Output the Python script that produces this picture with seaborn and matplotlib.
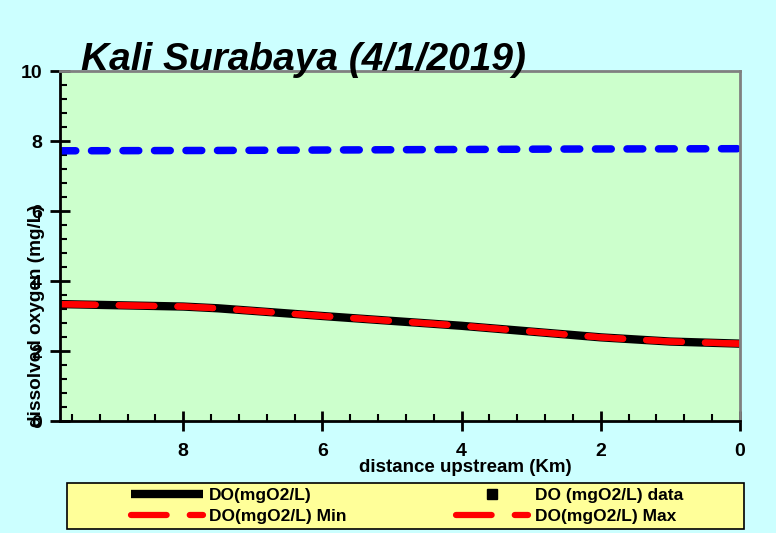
import matplotlib
matplotlib.use("Agg")
import matplotlib.pyplot as plt
import matplotlib.patches as mpatches
from matplotlib.ticker import MultipleLocator
import seaborn as sns

# values
dist_km = [9.77, 8.0, 7.5, 6.0, 4.0, 2.0, 1.0, 0.0]
do_model = [3.34, 3.27, 3.22, 3.00, 2.72, 2.39, 2.27, 2.21]
do_min = [3.34, 3.27, 3.22, 3.00, 2.72, 2.39, 2.27, 2.21]
do_max = [3.34, 3.27, 3.22, 3.00, 2.72, 2.39, 2.27, 2.21]
sat_km = [9.77, 7.5, 5.0, 2.5, 0.0]
do_sat = [7.72, 7.73, 7.75, 7.77, 7.78]
data_km = []
data_do = []

title = "Kali Surabaya (4/1/2019)"
x_ticks = [0, 2, 4, 6, 8]
y_ticks = [0, 2, 4, 6, 8, 10]

plt.rcParams['font.family'] = ['Liberation Sans', 'DejaVu Sans']
plt.rcParams['font.weight'] = 'bold'

W, H = 776, 533
fig = plt.figure(figsize=(W / 100, H / 100), dpi=100, facecolor='#CCFFFF')
ax = fig.add_axes([60 / W, 112 / H, 680 / W, 350 / H])
ax.set_facecolor('#CCFFCC')

red_dash = (0, (5.7, 3.7))
sns.lineplot(x=sat_km, y=do_sat, ax=ax, color='#0000FF', linewidth=5.4,
             linestyle=(0, (2.1, 2.1)), dash_capstyle='round', sort=False)
sns.lineplot(x=dist_km, y=do_model, ax=ax, color='black', linewidth=6,
             sort=False, solid_capstyle='butt')
h_model = ax.lines[-1]
sns.lineplot(x=dist_km, y=do_min, ax=ax, color='#FF0000', linewidth=4.5,
             linestyle=red_dash, dash_capstyle='round', sort=False)
h_min = ax.lines[-1]
sns.lineplot(x=dist_km, y=do_max, ax=ax, color='#FF0000', linewidth=4.5,
             linestyle=red_dash, dash_capstyle='round', sort=False)
h_max = ax.lines[-1]
h_data, = ax.plot(data_km, data_do, 's', color='black', markersize=7, linestyle='none')

ax.set_xlim(9.77, 0)
ax.set_ylim(0, 10)
ax.set_xticks(x_ticks)
ax.set_yticks(y_ticks)
ax.xaxis.set_minor_locator(MultipleLocator(0.4))
ax.yaxis.set_minor_locator(MultipleLocator(0.4))
ax.tick_params(which='major', direction='inout', length=14, width=2, labelsize=14)
ax.tick_params(which='minor', direction='in', length=5, width=1.5)
ax.tick_params(axis='y', which='major', pad=6)
ax.tick_params(axis='x', which='major', pad=9)
for lab in ax.get_xticklabels() + ax.get_yticklabels():
    lab.set_fontweight('bold')

for side in ['left', 'bottom']:
    ax.spines[side].set_color('black')
    ax.spines[side].set_linewidth(2)
for side in ['top', 'right']:
    ax.spines[side].set_color('#808080')
    ax.spines[side].set_linewidth(2)

ax.set_xlabel('distance upstream (Km)', fontsize=13.5, fontweight='bold')
ax.xaxis.set_label_coords(0.596, -0.108)
# the original draws the y label right over the tick numbers
ax.set_ylabel('dissolved oxygen (mg/L)', fontsize=13.7, fontweight='bold')
ax.yaxis.set_label_coords(-0.022, 0.30)

fig.text(81 / W, 1 - 70 / H, title, fontsize=28, fontweight='bold', style='italic',
         ha='left', va='baseline')

# legend box
fig.patches.append(mpatches.Rectangle((67 / W, 4 / H), 677 / W, 46 / H, transform=fig.transFigure,
                                      facecolor='#FFFF99', edgecolor='black', linewidth=1.2))
fig.legend([h_model, h_min, h_data, h_max],
           ['DO(mgO2/L)', 'DO(mgO2/L) Min', 'DO (mgO2/L) data', 'DO(mgO2/L) Max'],
           ncol=2, mode='expand', frameon=False, loc='lower left',
           bbox_to_anchor=(126 / W, 4 / H, 562 / W, 46 / H), borderaxespad=0,
           borderpad=0.3, handlelength=4.15, handletextpad=0.35, labelspacing=0.3,
           prop={'size': 12.5, 'weight': 'bold'})

fig.savefig('out.png', dpi=100, facecolor=fig.get_facecolor())
